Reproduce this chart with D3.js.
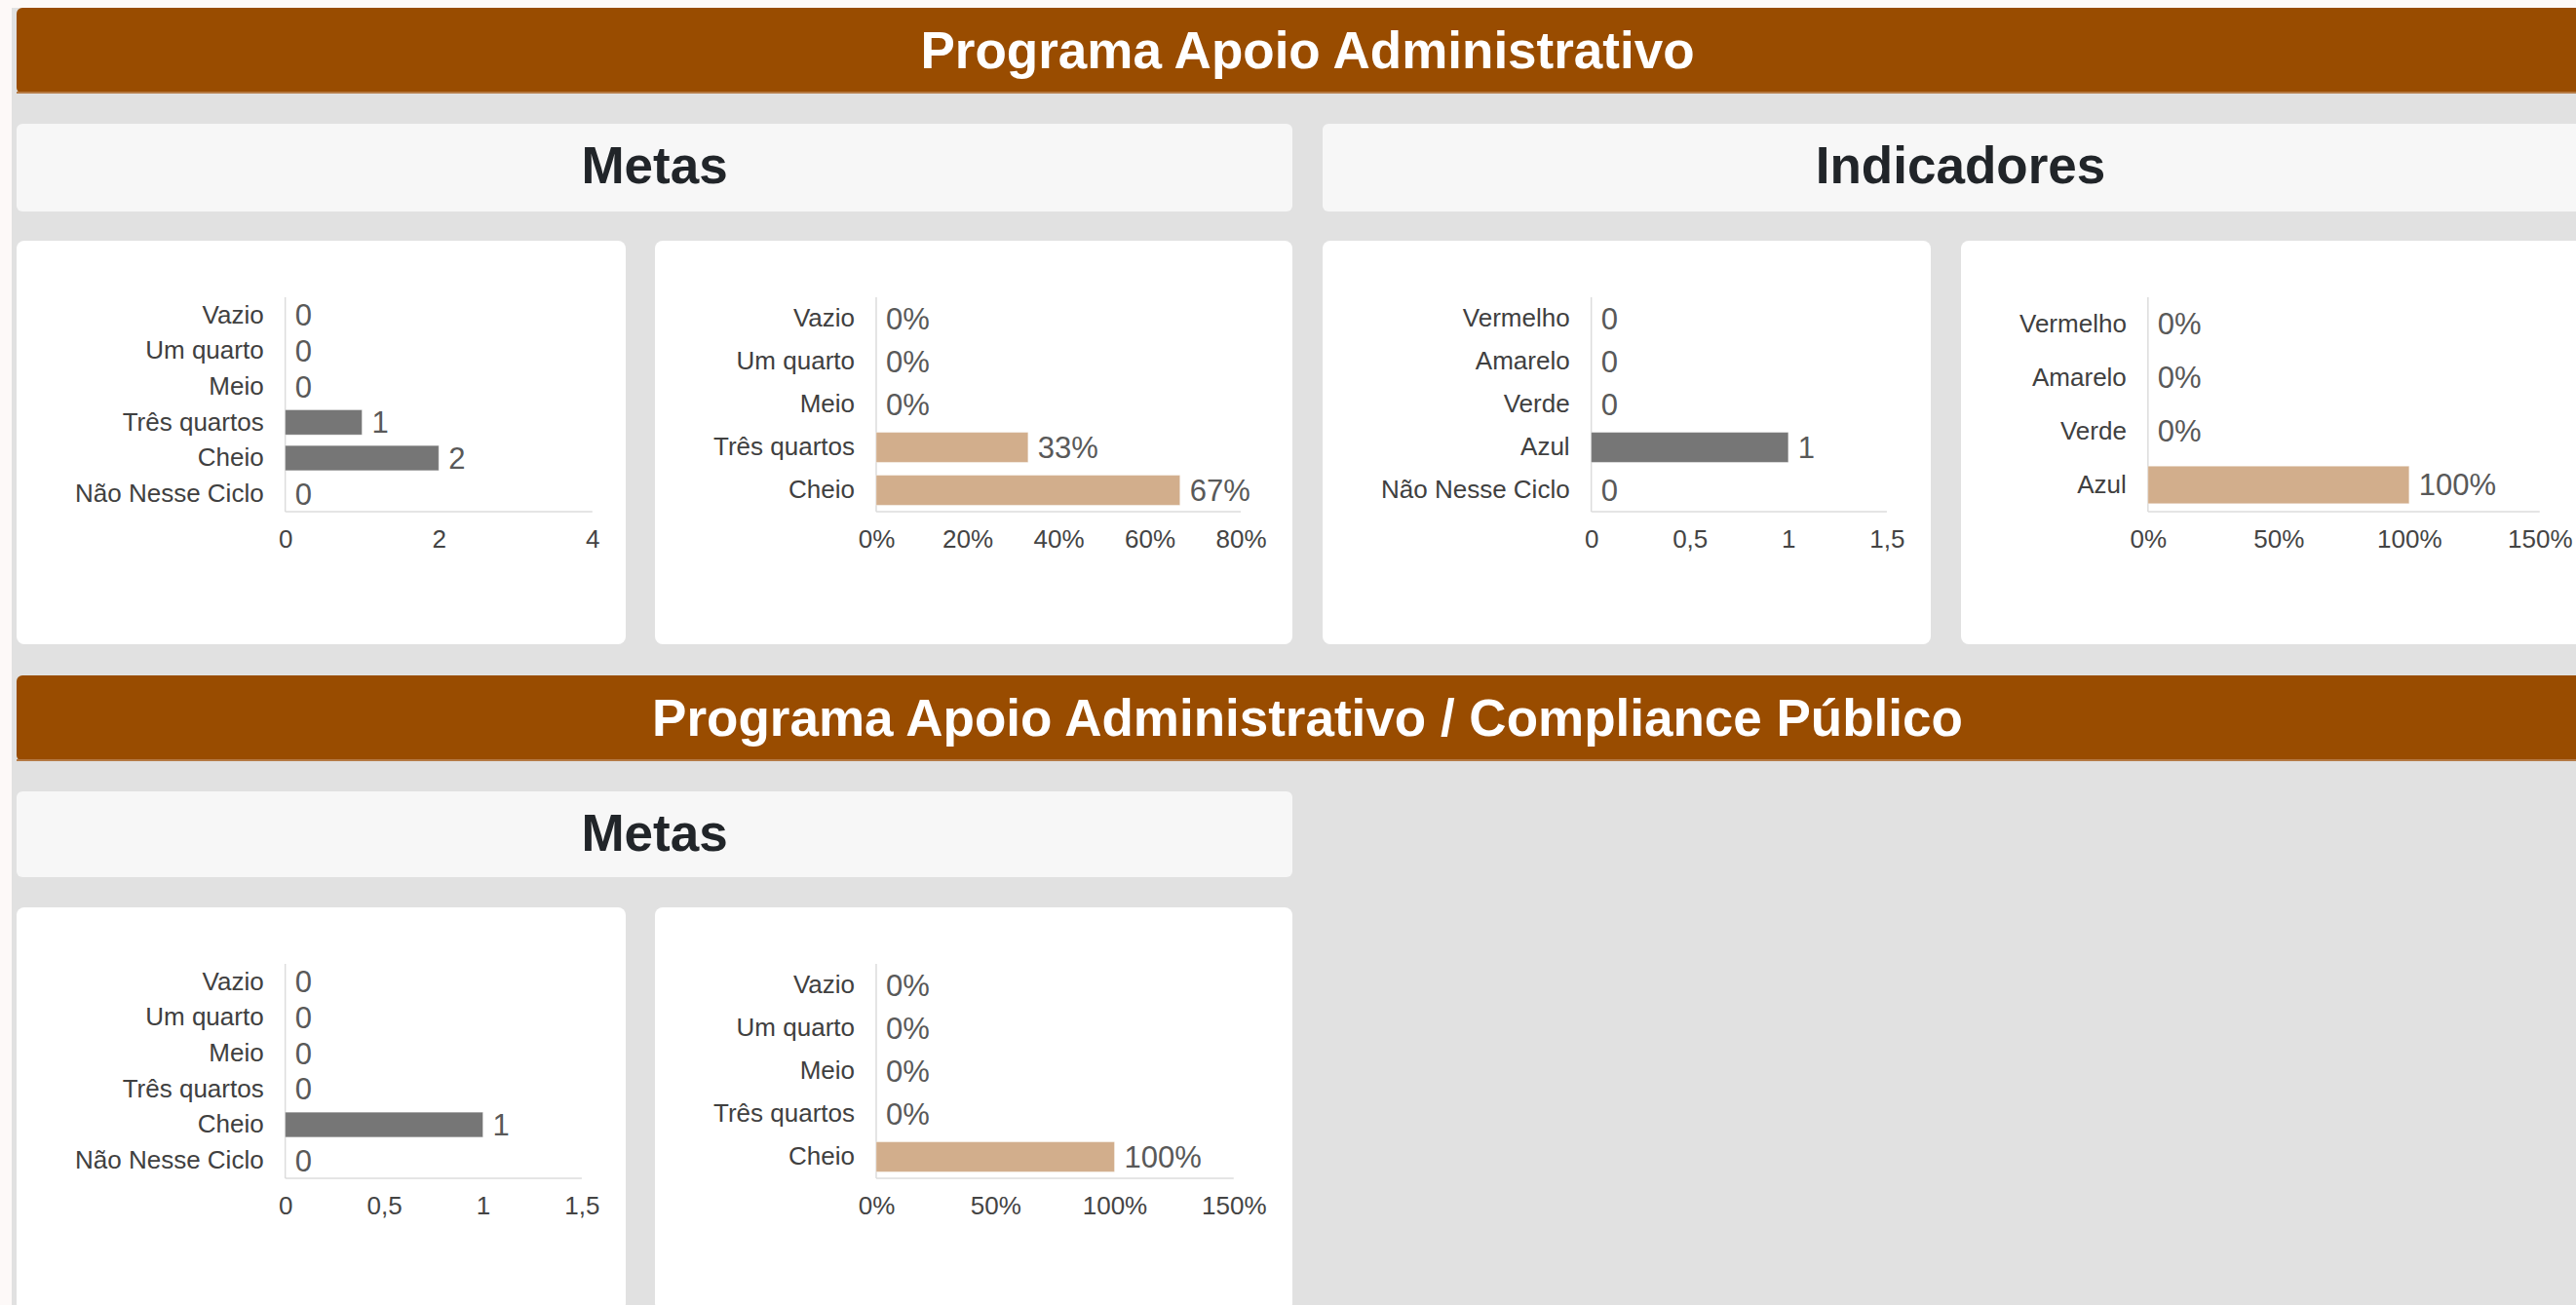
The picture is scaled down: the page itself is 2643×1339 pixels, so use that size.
<!DOCTYPE html>
<html>
<head>
<meta charset="utf-8">
<script src="https://cdn.jsdelivr.net/npm/d3@7"></script>
<style>
    html, body { margin: 0; padding: 0; background: #fdf9f8; overflow: hidden; }
    svg { display: block; font-family: "Liberation Sans", Arial, sans-serif; }
</style>
</head>
<body>
<div id="page"></div>
<script>
const width = 2643;
const height = 1339;

// Categories
const metasCategories = ["Vazio", "Um quarto", "Meio", "Três quartos", "Cheio", "Não Nesse Ciclo"];
const metasPctCategories = ["Vazio", "Um quarto", "Meio", "Três quartos", "Cheio"];
const indicCategories = ["Vermelho", "Amarelo", "Verde", "Azul", "Não Nesse Ciclo"];
const indicPctCategories = ["Vermelho", "Amarelo", "Verde", "Azul"];

// Values - Programa Apoio Administrativo
const adminMetasCount = [0, 0, 0, 1, 2, 0];
const adminMetasPct = [0, 0, 0, 0.3333, 0.6667];
const adminIndicCount = [0, 0, 0, 1, 0];
const adminIndicPct = [0, 0, 0, 1];

// Values - Programa Apoio Administrativo / Compliance Público
const compMetasCount = [0, 0, 0, 0, 1, 0];
const compMetasPct = [0, 0, 0, 0, 1];

// Tick labels
const ticksAdminMetasCount = [0, 2, 4];
const ticksAdminMetasPct = [0, 0.2, 0.4, 0.6, 0.8];
const ticksAdminIndicCount = [0, 0.5, 1, 1.5];
const ticksAdminIndicPct = [0, 0.5, 1, 1.5];
const ticksCompMetasCount = [0, 0.5, 1, 1.5];
const ticksCompMetasPct = [0, 0.5, 1, 1.5];

// Section / header titles
const bannerTitles = ["Programa Apoio Administrativo", "Programa Apoio Administrativo / Compliance Público"];

const GRAY = "#767676";
const TAN = "#d2ae8c";

const locale = d3.formatLocale({ decimal: ",", thousands: ".", grouping: [3], currency: ["R$", ""] });
const fmtCount = locale.format("~g");
const fmtPct = locale.format(".0%");

const svg = d3.select("#page").append("svg").attr("width", width).attr("height", height);

// background
svg.append("rect").attr("width", width).attr("height", height).attr("fill", "#fdf9f8");
svg.append("rect").attr("x", 12).attr("y", 8).attr("width", width).attr("height", height).attr("fill", "#e1e1e1");

// layout boxes
const banners = [
    { y: 8, title: bannerTitles[0] },
    { y: 693, title: bannerTitles[1] },
];
const headers = [
    { x: 17, y: 127, w: 1309, h: 90, title: "Metas" },
    { x: 1357, y: 127, w: 1309, h: 90, title: "Indicadores" },
    { x: 17, y: 812, w: 1309, h: 88, title: "Metas" },
];

banners.forEach((b) => {
    svg.append("rect")
        .attr("x", 17).attr("y", b.y).attr("width", 2649).attr("height", 88)
        .attr("rx", 6).attr("fill", "#994c00");
    svg.append("rect")
        .attr("x", 17).attr("y", b.y + 86).attr("width", 2649).attr("height", 2)
        .attr("fill", "#b57a45");
    svg.append("text")
        .attr("x", 17 + 2649 / 2).attr("y", b.y + 62)
        .attr("text-anchor", "middle")
        .attr("fill", "#fff")
        .attr("font-weight", 700)
        .attr("font-size", 53)
        .text(b.title);
});

headers.forEach((h) => {
    svg.append("rect")
        .attr("x", h.x).attr("y", h.y).attr("width", h.w).attr("height", h.h)
        .attr("rx", 6).attr("fill", "#f7f7f7");
    svg.append("text")
        .attr("x", h.x + h.w / 2).attr("y", h.y + 61)
        .attr("text-anchor", "middle")
        .attr("fill", "#212529")
        .attr("font-weight", 700)
        .attr("font-size", 53)
        .text(h.title);
});

const charts = [
    { x: 17, y: 247, w: 625, cats: metasCategories, values: adminMetasCount, ticks: ticksAdminMetasCount, pct: false, color: GRAY },
    { x: 672, y: 247, w: 654, cats: metasPctCategories, values: adminMetasPct, ticks: ticksAdminMetasPct, pct: true, color: TAN },
    { x: 1357, y: 247, w: 624, cats: indicCategories, values: adminIndicCount, ticks: ticksAdminIndicCount, pct: false, color: GRAY },
    { x: 2012, y: 247, w: 654, cats: indicPctCategories, values: adminIndicPct, ticks: ticksAdminIndicPct, pct: true, color: TAN },
    { x: 17, y: 931, w: 625, cats: metasCategories, values: compMetasCount, ticks: ticksCompMetasCount, pct: false, color: GRAY },
    { x: 672, y: 931, w: 654, cats: metasPctCategories, values: compMetasPct, ticks: ticksCompMetasPct, pct: true, color: TAN },
];

const labelSize = 26;
const valueSize = 31;

function textWidth(str, size) {
    const t = svg.append("text").attr("font-size", size).text(str);
    const w = t.node().getComputedTextLength();
    t.remove();
    return w;
}

charts.forEach((c) => {
    const fmt = c.pct ? fmtPct : fmtCount;

    svg.append("rect")
        .attr("x", c.x).attr("y", c.y).attr("width", c.w).attr("height", 414)
        .attr("rx", 8).attr("fill", "#fff");

    const maxLabel = d3.max(c.cats, (d) => textWidth(d, labelSize));
    const lastTick = textWidth(fmt(c.ticks[c.ticks.length - 1]), labelSize);

    const left = c.x + 60 + maxLabel + 22;
    const right = c.x + c.w - 27 - lastTick / 2;
    const top = c.y + 58;
    const bottom = c.y + 278;

    const x = d3.scaleLinear().domain([0, c.ticks[c.ticks.length - 1]]).range([left, right]);
    const y = d3.scaleBand().domain(c.cats).range([top, bottom]).paddingInner(0.3).paddingOuter(0.15);

    const g = svg.append("g");

    // axis lines
    g.append("line")
        .attr("x1", left).attr("x2", right).attr("y1", bottom).attr("y2", bottom)
        .attr("stroke", "#dcdcdc").attr("stroke-width", 1.5);
    g.append("line")
        .attr("x1", left).attr("x2", left).attr("y1", top).attr("y2", bottom)
        .attr("stroke", "#dcdcdc").attr("stroke-width", 1.5);

    // x axis
    g.append("g")
        .attr("transform", `translate(0,${bottom})`)
        .call(d3.axisBottom(x).tickValues(c.ticks).tickSize(0).tickPadding(19).tickFormat(fmt))
        .call((a) => a.select(".domain").remove())
        .call((a) => a.selectAll("text")
            .attr("font-size", labelSize)
            .attr("font-family", "Liberation Sans, Arial, sans-serif")
            .attr("fill", "#444"));

    // y axis
    g.append("g")
        .attr("transform", `translate(${left},0)`)
        .call(d3.axisLeft(y).tickSize(0).tickPadding(22))
        .call((a) => a.select(".domain").remove())
        .call((a) => a.selectAll("text")
            .attr("font-size", labelSize)
            .attr("font-family", "Liberation Sans, Arial, sans-serif")
            .attr("fill", "#404040"));

    const rows = c.cats.map((cat, i) => ({ cat, v: c.values[i] }));

    // bars
    g.selectAll("rect.bar")
        .data(rows.filter((d) => d.v > 0))
        .join("rect")
        .attr("class", "bar")
        .attr("x", x(0))
        .attr("y", (d) => y(d.cat))
        .attr("width", (d) => x(d.v) - x(0))
        .attr("height", y.bandwidth())
        .attr("fill", c.color)
        .attr("stroke", "#fff")
        .attr("stroke-opacity", 0.35)
        .attr("stroke-width", 1);

    // value labels
    g.selectAll("text.val")
        .data(rows)
        .join("text")
        .attr("class", "val")
        .attr("x", (d) => x(d.v) + 10)
        .attr("y", (d) => y(d.cat) + y.bandwidth() / 2)
        .attr("dy", "0.35em")
        .attr("font-size", valueSize)
        .attr("fill", "#595959")
        .text((d) => fmt(d.v));
});
</script>
</body>
</html>
